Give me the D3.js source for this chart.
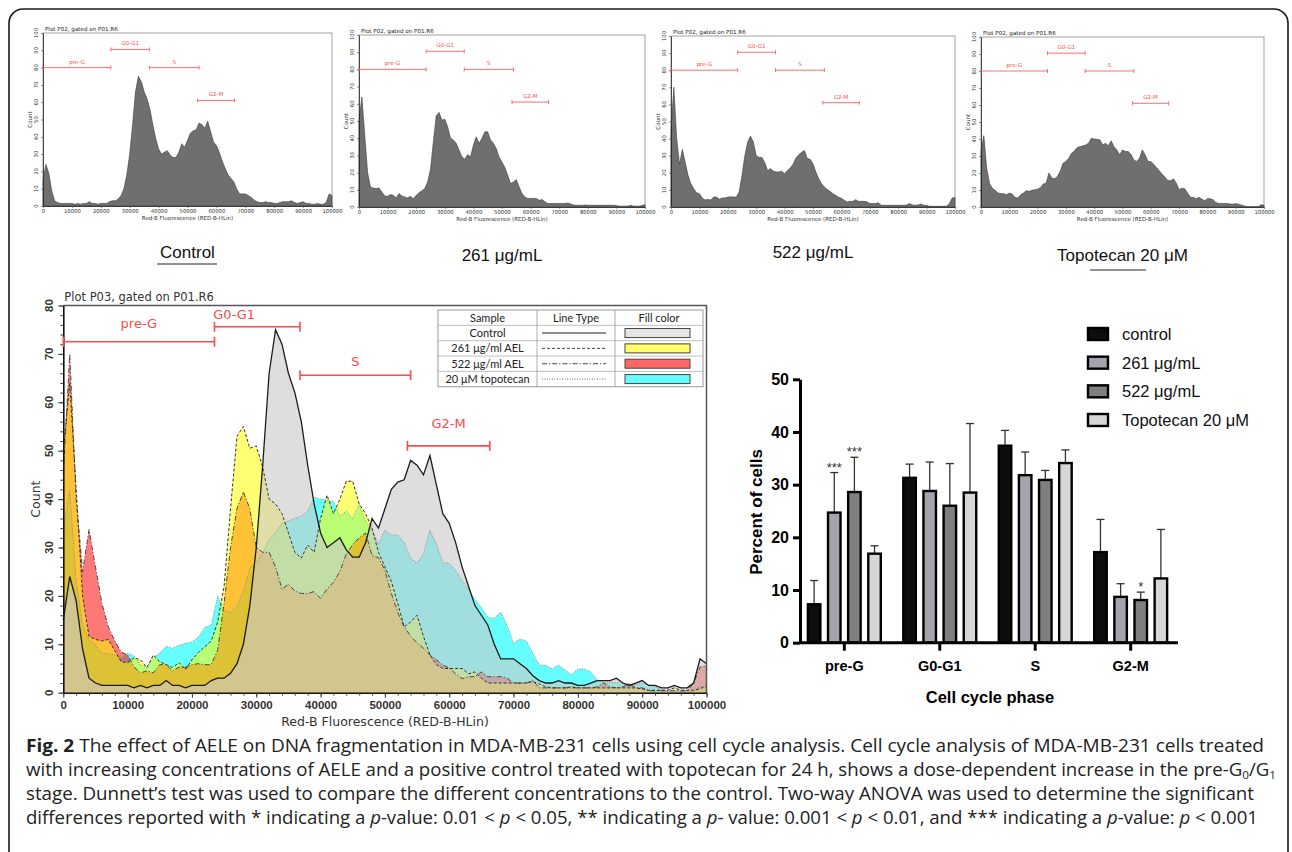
<!doctype html>
<html lang="en">
<head>
<meta charset="UTF-8">
<title>Fig. 2</title>
<script src="https://d3js.org/d3.v7.min.js"></script>
<style>
body { margin: 0; background: #fff; }
svg { display: block; }
</style>
</head>
<body>
<div id="chart-area"></div>
<script>

// histogram counts, one value per 1000 units of Red-B fluorescence (0 .. 100000)
const binStep = 1000;
const histControl = [15, 24, 19, 9, 3, 2, 1.5, 1.5, 1.5, 1.5, 1.5, 1, 1.5, 1, 1.5, 1.5, 2.5, 1.5, 1.5, 1, 1.5, 1.5, 1.5, 2.5, 3,
    3, 4, 6, 10, 18, 30, 47, 66, 75, 72, 66, 62, 56, 47, 39, 33, 30, 31, 32, 29.5, 28, 28, 31, 36, 34,
    38, 42, 43.5, 44, 48, 47, 45, 49, 43, 37, 35, 31, 26, 22, 18, 16, 14, 10, 7, 7, 7, 6, 5, 3.5, 2.5,
    2, 2, 2.5, 2, 2, 1.5, 1.5, 2, 2.5, 2.5, 2.5, 3, 2, 1.5, 2, 2.5, 1.5, 1.5, 1, 1, 1.5, 1, 1, 2, 7, 6];
const hist261 = [50, 64, 42, 20, 11.6, 11, 10.7, 11, 8.7, 6.4, 6.2, 7.2, 6.8, 5.2, 7.8, 6.4, 5.8, 5.2, 6.2, 4.8, 6.8, 8.3, 9.5, 10.7, 14.6,
    22, 38, 53, 55, 50.5, 51, 46.6, 40, 39, 37, 33, 29, 27.8, 30.5, 29, 36, 40.8, 37, 40, 43.7, 43.7, 39, 37, 34, 29,
    26, 23, 18.4, 13.6, 14.6, 16, 11.6, 7.8, 5.8, 5, 5, 5, 5, 3.9, 4.3, 3, 2, 2, 2, 2, 2, 2, 2, 2.3, 1.8,
    1.2, 1, 1, 1, 1.2, 1, 1, 1, 1, 1, 1, 1, 1, 1, 1, 0.8, 0.5, 0.5, 0.5, 0.5, 1, 0.5, 0.5, 0.5, 0.8, 1.5];
const hist522 = [45, 70, 40, 25, 33.7, 26, 18.5, 13.6, 10.7, 8.4, 7.8, 5.3, 4.1, 4.5, 4.1, 5.8, 5.8, 4.5, 5.3, 5.3, 5.8, 6, 5.8, 5.8, 8.8,
    18.5, 30, 38, 41.5, 38, 30, 29, 29, 26, 21.4, 22.4, 21, 20.5, 20.5, 20.9, 19.5, 21.4, 22.8, 25, 28.7, 30.6, 32, 33, 28.3, 27.9,
    25.3, 20.5, 16.6, 13.6, 11.7, 10.3, 9.2, 7.8, 6.8, 5.7, 5.1, 3.9, 2.9, 3.3, 3.3, 4.3, 3.3, 3.3, 3.3, 3, 2, 2, 2, 2.5, 1,
    1, 1, 1, 1, 1, 1, 1, 1, 1.2, 2, 1.2, 1, 1.2, 1.8, 1, 1, 0.4, 0.4, 0.4, 0.4, 0.4, 0.4, 0.4, 2, 5.3, 5.5];
const histTopo = [33, 42, 23, 14, 11, 9.8, 8.2, 8, 7.8, 7.2, 8.2, 7.6, 5.7, 5.3, 7.2, 8.2, 9.6, 9.2, 9.8, 10.2, 10.5, 11.5, 13.5, 14, 20,
    17, 16.6, 18, 21, 25.8, 26.8, 28.7, 31.6, 33, 35, 35.5, 36, 36.5, 37.5, 40.4, 40, 39.8, 39.5, 36.5, 37.5, 36, 38.9, 35.5, 33.6, 30.7,
    33.6, 32.6, 32.6, 31, 27.7, 26.8, 28.7, 33.6, 30.7, 26.8, 26.8, 25.2, 23.2, 21.3, 19.3, 17.6, 15.6, 15.4, 16.6, 14, 10.2, 11.1, 10.7, 8.2, 5.7,
    5.7, 4.9, 5.7, 4.7, 3.7, 4.9, 4.9, 4.3, 2.7, 2.1, 2.1, 2.1, 2, 1.8, 1.6, 2, 1.6, 1.2, 0.6, 0.2, 0.2, 0.2, 0.2, 0.2, 1.4, 1];

const panelNames = ['Control', '261 μg/mL', '522 μg/mL', 'Topotecan 20 μM'];
const tableNames = ['Control', '261 μg/ml AEL', '522 μg/ml AEL', '20 μM topotecan'];

// gates (fluorescence ranges)
const gateNames = ['pre-G', 'G0-G1', 'S', 'G2-M'];
const gateFrom = [0, 23500, 36800, 53500];
const gateTo = [23500, 36800, 54000, 66300];
const gateCountSmall = [80, 90.5, 80, 61];
const gateCountBig = [72.5, 75.6, 65.6, 51];

// bar chart
const phases = ['pre-G', 'G0-G1', 'S', 'G2-M'];
const barSeries = ['control', '261 μg/mL', '522 μg/mL', 'Topotecan 20 μM'];
const meanControl = [7.3, 31.3, 37.4, 17.2];
const mean261 = [24.7, 28.8, 31.8, 8.7];
const mean522 = [28.6, 26.0, 30.9, 8.1];
const meanTopo = [16.9, 28.5, 34.1, 12.2];
const sdControl = [4.5, 2.6, 2.9, 6.2];
const sd261 = [7.6, 5.5, 4.4, 2.5];
const sd522 = [6.6, 8.0, 1.8, 1.5];
const sdTopo = [1.5, 13.1, 2.5, 9.3];
const sig261 = ['***', '', '', ''];
const sig522 = ['***', '', '', '*'];
const barTicks = [0, 10, 20, 30, 40, 50];

const fluoTicks = [0, 10000, 20000, 30000, 40000, 50000, 60000, 70000, 80000, 90000, 100000];
const plain = d3.format('d');

const svg = d3.select('#chart-area')
    .append('svg')
    .attr('width', 1292)
    .attr('height', 852);

svg.append('rect')
    .attr('x', 9).attr('y', 9)
    .attr('width', 1279).attr('height', 900)
    .attr('rx', 14)
    .attr('fill', 'none')
    .attr('stroke', '#1a1a1a')
    .attr('stroke-width', 1.6);

const verdana = 'DejaVu Sans, Verdana, sans-serif';
const arial = 'Liberation Sans, Arial, sans-serif';
const gateRed = '#ff4a4a';

function drawGates(g, x, y, levels, capH, fontSize, lift, width) {
    gateNames.forEach((name, i) => {
        const x0 = x(gateFrom[i]), x1 = x(gateTo[i]), yy = y(levels[i]);
        g.append('line').attr('x1', x0).attr('x2', x1).attr('y1', yy).attr('y2', yy)
            .attr('stroke', gateRed).attr('stroke-width', width);
        [x0, x1].forEach(xx => g.append('line')
            .attr('x1', xx).attr('x2', xx).attr('y1', yy - capH / 2).attr('y2', yy + capH / 2)
            .attr('stroke', gateRed).attr('stroke-width', width));
        g.append('text')
            .attr('x', (x0 + x1) / 2 + (lift[i][1] || 0))
            .attr('y', yy - lift[i][0])
            .attr('text-anchor', 'middle')
            .attr('font-family', verdana)
            .attr('font-size', fontSize)
            .attr('fill', gateRed)
            .text(name);
    });
}

// ---------- four small histograms ----------
const smallBoxes = [
    { l: 43, r: 332, t: 33, b: 206 },
    { l: 359, r: 645, t: 35, b: 207 },
    { l: 671, r: 955, t: 36, b: 207 },
    { l: 981, r: 1264, t: 37, b: 207 }
];
const smallHists = [histControl, hist261, hist522, histTopo];
const panelLabelY = [258, 261, 258, 261];

smallHists.forEach((counts, k) => {
    const box = smallBoxes[k];
    const x = d3.scaleLinear().domain([0, 100000]).range([box.l, box.r]);
    const y = d3.scaleLinear().domain([0, 100]).range([box.b, box.t]);
    const g = svg.append('g');

    g.append('rect')
        .attr('x', box.l).attr('y', box.t)
        .attr('width', box.r - box.l).attr('height', box.b - box.t)
        .attr('fill', '#fff').attr('stroke', '#8a8a8a').attr('stroke-width', 0.8);

    const area = d3.area()
        .x((d, i) => x(i * binStep))
        .y0(y(0))
        .y1(d => y(d));

    g.append('path').datum(counts)
        .attr('d', area)
        .attr('fill', '#6f6f6f')
        .attr('stroke', '#3a3a3a')
        .attr('stroke-width', 0.6);

    g.append('g')
        .attr('transform', `translate(0,${box.b})`)
        .call(d3.axisBottom(x).tickValues(fluoTicks).tickFormat(plain).tickSize(2).tickSizeOuter(0).tickPadding(1.5))
        .call(s => {
            s.attr('font-family', verdana).attr('font-size', 5.3);
            s.select('.domain').attr('stroke', '#222').attr('stroke-width', 0.8);
            s.selectAll('line').attr('stroke', '#444').attr('stroke-width', 0.6);
            s.selectAll('text').attr('fill', '#333');
        });

    const yAx = g.append('g')
        .attr('transform', `translate(${box.l},0)`)
        .call(d3.axisLeft(y).tickValues(d3.range(0, 101, 10)).tickSize(2).tickSizeOuter(0).tickFormat(''));
    yAx.select('.domain').attr('stroke', '#222').attr('stroke-width', 0.8);
    yAx.selectAll('line').attr('stroke', '#444').attr('stroke-width', 0.6);

    g.selectAll('.ylab').data(d3.range(0, 101, 10)).enter()
        .append('text')
        .attr('transform', d => `translate(${box.l - 5},${y(d)}) rotate(-90)`)
        .attr('text-anchor', 'middle')
        .attr('font-family', verdana).attr('font-size', 5.3).attr('fill', '#333')
        .text(d => d);

    g.append('text')
        .attr('transform', `translate(${box.l - 11},${(box.t + box.b) / 2}) rotate(-90)`)
        .attr('text-anchor', 'middle')
        .attr('font-family', verdana).attr('font-size', 5.5).attr('fill', '#333')
        .text('Count');

    g.append('text')
        .attr('x', (box.l + box.r) / 2).attr('y', box.b + 14)
        .attr('text-anchor', 'middle')
        .attr('font-family', verdana).attr('font-size', 5.5).attr('fill', '#333')
        .text('Red-B Fluorescence (RED-B-HLin)');

    g.append('text')
        .attr('x', box.l + 2).attr('y', box.t - 2)
        .attr('font-family', verdana).attr('font-size', 5.6).attr('fill', '#222')
        .text('Plot P02, gated on P01.R6');

    drawGates(g, x, y, gateCountSmall, 4, 5.5, [[4], [4], [4], [4]], 0.8);

    g.append('text')
        .attr('x', (box.l + box.r) / 2).attr('y', panelLabelY[k])
        .attr('text-anchor', 'middle')
        .attr('font-family', arial).attr('font-size', 17).attr('fill', '#111')
        .text(panelNames[k]);
});

// underline marks under the first and last panel labels
svg.append('line').attr('x1', 157).attr('x2', 217).attr('y1', 264).attr('y2', 264)
    .attr('stroke', '#222').attr('stroke-width', 1);
svg.append('line').attr('x1', 1090).attr('x2', 1146).attr('y1', 270).attr('y2', 270)
    .attr('stroke', '#222').attr('stroke-width', 1);

// ---------- overlay histogram ----------
const big = { l: 63.3, r: 706.5, t: 305.5, b: 692.7 };
const bx = d3.scaleLinear().domain([0, 100000]).range([big.l, big.r]);
const bY = d3.scaleLinear().domain([0, 80]).range([big.b, big.t]);
const gb = svg.append('g');

const overlaySeries = [
    { data: histTopo, fill: 'rgb(0,255,255)', op: 0.6, stroke: '#8c8c8c', dash: '1,1.5', w: 1 },
    { data: hist522, fill: 'rgb(255,0,0)', op: 0.53, stroke: '#4a4a4a', dash: '5,2,1.2,2', w: 1 },
    { data: hist261, fill: 'rgb(255,255,0)', op: 0.55, stroke: '#333', dash: '3,2', w: 1 },
    { data: histControl, fill: 'rgb(200,200,200)', op: 0.6, stroke: '#1a1a1a', dash: null, w: 1.3 }
];

const bArea = d3.area()
    .x((d, i) => bx(i * binStep))
    .y0(bY(0))
    .y1(d => bY(d));
const bLine = d3.line()
    .x((d, i) => bx(i * binStep))
    .y(d => bY(d));

overlaySeries.forEach(s => {
    gb.append('path').datum(s.data)
        .attr('d', bArea)
        .attr('fill', s.fill)
        .attr('fill-opacity', s.op);
});
overlaySeries.forEach(s => {
    gb.append('path').datum(s.data)
        .attr('d', bLine)
        .attr('fill', 'none')
        .attr('stroke', s.stroke)
        .attr('stroke-width', s.w)
        .attr('stroke-dasharray', s.dash);
});

// frame top / right
gb.append('path')
    .attr('d', `M${big.l},${big.t}H${big.r}V${big.b}`)
    .attr('fill', 'none').attr('stroke', '#555').attr('stroke-width', 1.5);

gb.append('g')
    .attr('transform', `translate(0,${big.b})`)
    .call(d3.axisBottom(bx).tickValues(fluoTicks).tickFormat(plain).tickSize(5).tickSizeOuter(0).tickPadding(3))
    .call(s => {
        s.attr('font-family', arial).attr('font-size', 11.5).attr('font-weight', 'bold');
        s.select('.domain').attr('stroke', '#111').attr('stroke-width', 1.6);
        s.selectAll('line').attr('stroke', '#333');
        s.selectAll('text').attr('fill', '#333');
    });
gb.append('g')
    .attr('transform', `translate(0,${big.b})`)
    .call(d3.axisBottom(bx).tickValues(d3.range(0, 100001, 2000)).tickSize(3).tickSizeOuter(0).tickFormat(''))
    .call(s => { s.select('.domain').remove(); s.selectAll('line').attr('stroke', '#444'); });

const byAxis = gb.append('g')
    .attr('transform', `translate(${big.l},0)`)
    .call(d3.axisLeft(bY).tickValues(d3.range(0, 81, 10)).tickSize(5).tickSizeOuter(0).tickFormat(''));
byAxis.select('.domain').attr('stroke', '#111').attr('stroke-width', 1.6);
byAxis.selectAll('line').attr('stroke', '#333');
gb.append('g')
    .attr('transform', `translate(${big.l},0)`)
    .call(d3.axisLeft(bY).tickValues(d3.range(0, 81, 2)).tickSize(3).tickSizeOuter(0).tickFormat(''))
    .call(s => { s.select('.domain').remove(); s.selectAll('line').attr('stroke', '#444'); });

gb.selectAll('.bylab').data(d3.range(0, 81, 10)).enter()
    .append('text')
    .attr('transform', d => `translate(${big.l - 10},${bY(d)}) rotate(-90)`)
    .attr('text-anchor', 'middle')
    .attr('font-family', arial).attr('font-size', 11.5).attr('font-weight', 'bold').attr('fill', '#333')
    .text(d => d);

gb.append('text')
    .attr('transform', `translate(40,${(big.t + big.b) / 2}) rotate(-90)`)
    .attr('text-anchor', 'middle')
    .attr('font-family', verdana).attr('font-size', 12.5).attr('fill', '#333')
    .text('Count');

gb.append('text')
    .attr('x', 385).attr('y', 726)
    .attr('text-anchor', 'middle')
    .attr('font-family', verdana).attr('font-size', 12.5).attr('fill', '#333')
    .text('Red-B Fluorescence (RED-B-HLin)');

gb.append('text')
    .attr('x', big.l + 1).attr('y', 301)
    .attr('font-family', verdana).attr('font-size', 11.5).attr('fill', '#333')
    .text('Plot P03, gated on P01.R6');

drawGates(gb, bx, bY, gateCountBig, 10, 13, [[14], [8, -23], [9], [18]], 1.6);

// legend table
const tbl = { l: 438, c1: 537, c2: 615, r: 703, t: 310, rowH: 15.35 };
const tg = gb.append('g');
tg.append('rect')
    .attr('x', tbl.l).attr('y', tbl.t)
    .attr('width', tbl.r - tbl.l).attr('height', tbl.rowH * 5)
    .attr('fill', '#fff').attr('stroke', '#9a9a9a').attr('stroke-width', 1);
d3.range(1, 5).forEach(i => tg.append('line')
    .attr('x1', tbl.l).attr('x2', tbl.r)
    .attr('y1', tbl.t + i * tbl.rowH).attr('y2', tbl.t + i * tbl.rowH)
    .attr('stroke', '#b0b0b0').attr('stroke-width', 0.8));
[tbl.c1, tbl.c2].forEach(xx => tg.append('line')
    .attr('x1', xx).attr('x2', xx).attr('y1', tbl.t).attr('y2', tbl.t + 5 * tbl.rowH)
    .attr('stroke', '#9a9a9a').attr('stroke-width', 0.8));
const headers = ['Sample', 'Line Type', 'Fill color'];
const colMid = [(tbl.l + tbl.c1) / 2, (tbl.c1 + tbl.c2) / 2, (tbl.c2 + tbl.r) / 2];
headers.forEach((h, i) => tg.append('text')
    .attr('x', colMid[i]).attr('y', tbl.t + tbl.rowH * 0.5 + 4)
    .attr('text-anchor', 'middle')
    .attr('font-family', 'Lato, Liberation Sans, sans-serif').attr('font-size', 11).attr('fill', '#222')
    .text(h));
const legendOrder = [3, 2, 1, 0];
tableNames.forEach((name, i) => {
    const s = overlaySeries[legendOrder[i]];
    const cy = tbl.t + tbl.rowH * (i + 1.5);
    tg.append('text')
        .attr('x', colMid[0]).attr('y', cy + 4)
        .attr('text-anchor', 'middle')
        .attr('font-family', 'Lato, Liberation Sans, sans-serif').attr('font-size', 11).attr('fill', '#222')
        .text(name);
    tg.append('line')
        .attr('x1', tbl.c1 + 5).attr('x2', tbl.c2 - 9).attr('y1', cy).attr('y2', cy)
        .attr('stroke', i === 0 ? '#222' : '#444')
        .attr('stroke-width', i === 3 ? 0.8 : 1)
        .attr('stroke-dasharray', s.dash);
    tg.append('rect')
        .attr('x', tbl.c2 + 10).attr('y', cy - 4.5)
        .attr('width', 65).attr('height', 9)
        .attr('fill', s.fill).attr('fill-opacity', i === 0 ? 0.45 : 0.6)
        .attr('stroke', '#444').attr('stroke-width', 1);
});

// ---------- bar chart ----------
const means = [meanControl, mean261, mean522, meanTopo];
const sds = [sdControl, sd261, sd522, sdTopo];
const sigs = [null, sig261, sig522, null];
const barFill = ['#0d0d0d', '#a4a4ac', '#7f7f7f', '#d6d6d6'];

const x0 = d3.scaleBand().domain(phases).range([796.6, 1178.4]).padding(0);
const x1 = d3.scaleBand().domain(barSeries).range([0, x0.bandwidth()]).paddingInner(0.26).paddingOuter(0.5);
const yb = d3.scaleLinear().domain([0, 50]).range([642.7, 379.3]);
const gc = svg.append('g');

barSeries.forEach((ser, si) => {
    phases.forEach((ph, pi) => {
        const cx = x0(ph) + x1(ser) + x1.bandwidth() / 2;
        const top = means[si][pi] + sds[si][pi];
        gc.append('line')
            .attr('x1', cx).attr('x2', cx).attr('y1', yb(means[si][pi])).attr('y2', yb(top))
            .attr('stroke', '#333').attr('stroke-width', 1.3);
        gc.append('line')
            .attr('x1', cx - 4).attr('x2', cx + 4).attr('y1', yb(top)).attr('y2', yb(top))
            .attr('stroke', '#333').attr('stroke-width', 1.3);
        gc.append('rect')
            .attr('x', x0(ph) + x1(ser) + 1.2)
            .attr('y', yb(means[si][pi]))
            .attr('width', x1.bandwidth() - 2.4)
            .attr('height', yb(0) - yb(means[si][pi]))
            .attr('fill', barFill[si])
            .attr('stroke', '#000').attr('stroke-width', 2.4);
        if (sigs[si] && sigs[si][pi]) {
            gc.append('text')
                .attr('x', cx).attr('y', yb(top) - 1)
                .attr('text-anchor', 'middle')
                .attr('font-family', arial).attr('font-size', 13).attr('fill', '#333')
                .text(sigs[si][pi]);
        }
    });
});

gc.append('g')
    .attr('transform', 'translate(800,0)')
    .call(d3.axisLeft(yb).tickValues(barTicks).tickSize(7).tickSizeOuter(0).tickPadding(4))
    .call(s => {
        s.attr('font-family', arial).attr('font-size', 16).attr('font-weight', 'bold');
        s.select('.domain').attr('stroke', '#000').attr('stroke-width', 3);
        s.selectAll('line').attr('stroke', '#000').attr('stroke-width', 3);
        s.selectAll('text').attr('fill', '#000');
    });

gc.append('g')
    .attr('transform', `translate(0,${yb(0)})`)
    .call(d3.axisBottom(x0).tickSize(8).tickSizeOuter(0).tickPadding(10))
    .call(s => {
        s.attr('font-family', arial).attr('font-size', 14.5).attr('font-weight', 'bold');
        s.select('.domain').attr('stroke', '#000').attr('stroke-width', 3)
            .attr('d', 'M800,0H1178');
        s.selectAll('line').attr('stroke', '#000').attr('stroke-width', 3);
        s.selectAll('text').attr('fill', '#000');
    });

gc.append('text')
    .attr('transform', `translate(762,${(yb(0) + yb(50)) / 2 + 1}) rotate(-90)`)
    .attr('text-anchor', 'middle')
    .attr('font-family', arial).attr('font-size', 17).attr('font-weight', 'bold')
    .text('Percent of cells');

gc.append('text')
    .attr('x', 990).attr('y', 703)
    .attr('text-anchor', 'middle')
    .attr('font-family', arial).attr('font-size', 16.5).attr('font-weight', 'bold')
    .text('Cell cycle phase');

const legRowY = d3.scalePoint().domain(barSeries).range([334, 420]);
barSeries.forEach((ser, si) => {
    gc.append('rect')
        .attr('x', 1088).attr('y', legRowY(ser) - 6)
        .attr('width', 20).attr('height', 12)
        .attr('fill', barFill[si]).attr('stroke', '#000').attr('stroke-width', 2.4);
    gc.append('text')
        .attr('x', 1122).attr('y', legRowY(ser) + 6)
        .attr('font-family', arial).attr('font-size', 16.5).attr('fill', '#111')
        .text(ser);
});

// ---------- caption ----------
const cap = svg.append('g')
    .attr('font-family', 'Open Sans, Noto Sans, sans-serif')
    .attr('font-size', 17.5)
    .attr('fill', '#222');

function capLine(y, len, parts) {
    const t = cap.append('text').attr('x', 26).attr('y', y)
        .attr('textLength', len).attr('lengthAdjust', 'spacingAndGlyphs');
    parts.forEach(p => {
        const ts = t.append('tspan').text(p.t);
        if (p.b) ts.attr('font-weight', 'bold');
        if (p.i) ts.attr('font-style', 'italic');
        if (p.sub) ts.attr('baseline-shift', -3).attr('font-size', 11);
        if (p.back) ts.attr('baseline-shift', 0);
    });
}
capLine(752, 1238, [{ t: 'Fig. 2', b: true }, { t: ' The effect of AELE on DNA fragmentation in MDA-MB-231 cells using cell cycle analysis. Cell cycle analysis of MDA-MB-231 cells treated' }]);
capLine(776, 1250, [{ t: 'with increasing concentrations of AELE and a positive control treated with topotecan for 24 h, shows a dose-dependent increase in the pre-G' }, { t: '0', sub: true }, { t: '/G', back: true }, { t: '1', sub: true }]);
capLine(800, 1228, [{ t: 'stage. Dunnett’s test was used to compare the different concentrations to the control. Two-way ANOVA was used to determine the significant' }]);
capLine(824, 1232, [{ t: 'differences reported with * indicating a ' }, { t: 'p', i: true }, { t: '-value: 0.01 < ' }, { t: 'p', i: true },
    { t: ' < 0.05, ** indicating a ' }, { t: 'p', i: true }, { t: '- value: 0.001 < ' }, { t: 'p', i: true },
    { t: ' < 0.01, and *** indicating a ' }, { t: 'p', i: true }, { t: '-value: ' }, { t: 'p', i: true }, { t: ' < 0.001' }]);

</script>
</body>
</html>
